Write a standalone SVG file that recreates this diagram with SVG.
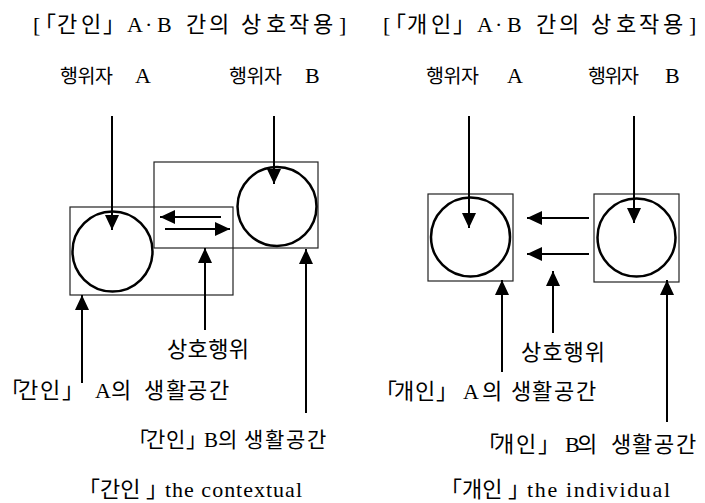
<svg xmlns="http://www.w3.org/2000/svg" width="705" height="503" viewBox="0 0 705 503">
<defs>
<style>
text{font-family:"Liberation Serif","Noto Sans CJK KR",serif;font-size:22px;fill:#000}
.ko{font-size:19.5px}
.sm{font-size:21px}
.box{fill:none;stroke:#222;stroke-width:1.2}
.circ{fill:#fff;stroke:#000;stroke-width:2.5}
.ar{stroke:#000;stroke-width:2;fill:none;marker-end:url(#ah)}
</style>
<marker id="ah" markerUnits="userSpaceOnUse" markerWidth="16" markerHeight="14" refX="15" refY="7" orient="auto">
<path d="M0,0 L15,7 L0,14 Z" fill="#000"/>
</marker>
</defs>
<rect width="705" height="503" fill="#fff"/>

<g id="title-left"><text y="32" x="33 34 57 81 103 120 127 145 157 175 186 209 230 241 266 289 313 339">[「간인」 A·B 간의 상호작용]</text></g>
<g id="title-right"><text y="32" x="383 384 407 431 453 470 477 495 507 525 536 559 580 591 616 639 663 689">[「개인」 A·B 간의 상호작용]</text></g>

<g id="L-actorA"><text y="83"><tspan class="ko" x="60 77.5 95">행위자</tspan><tspan x="120"> </tspan><tspan x="135">A</tspan></text></g>
<g id="L-actorB"><text y="83"><tspan class="ko" x="229 246.5 264">행위자</tspan><tspan x="290"> </tspan><tspan x="305">B</tspan></text></g>
<g id="L-spaceB"><rect class="box" x="154" y="162" width="164" height="86"/><circle class="circ" cx="277" cy="206.5" r="39.5"/></g>
<g id="L-spaceA"><rect class="box" x="70" y="207" width="163" height="88"/><circle class="circ" cx="112.5" cy="251.5" r="40"/></g>
<g id="L-interaction"><text x="167" y="357" textLength="82" lengthAdjust="spacing">상호행위</text></g>
<g id="L-labelA"><text y="398" x="0 18 40 62 80 95 111 135 144 166 187 209">「간인」 A의 생활공간</text></g>
<g id="L-labelB"><text class="sm" y="447" x="128 146 166 186 200 204 218 238 244 265 286 307">「간인」 B의 생활공간</text></g>
<g id="L-caption"><text y="497"><tspan x="78">「간인 」</tspan><tspan x="165" textLength="137" lengthAdjust="spacing">the contextual</tspan></text></g>

<g id="R-actorA"><text y="83"><tspan class="ko" x="426 443.5 461">행위자</tspan><tspan x="490"> </tspan><tspan x="507">A</tspan></text></g>
<g id="R-actorB"><text y="83"><tspan class="ko" x="588 604.5 621">행위자</tspan><tspan x="650"> </tspan><tspan x="665">B</tspan></text></g>
<g id="R-spaceA"><rect class="box" x="428" y="194" width="85" height="87"/><circle class="circ" cx="470.5" cy="237" r="39.5"/></g>
<g id="R-spaceB"><rect class="box" x="594" y="194" width="85" height="88"/><circle class="circ" cx="636.5" cy="237.5" r="39"/></g>
<g id="R-interaction"><text x="521" y="360" textLength="84" lengthAdjust="spacing">상호행위</text></g>
<g id="R-labelA"><text y="399" x="375 394 415 436 455 463 482 500 511 532 554 576">「개인」 A의 생활공간</text></g>
<g id="R-labelB"><text y="452" x="477 494 516 538 555 565 577 600 611 632 654 676">「개인」 B의 생활공간</text></g>
<g id="R-caption"><text y="497"><tspan x="440">「개인 」</tspan><tspan x="527" textLength="143" lengthAdjust="spacing">the individual</tspan></text></g>

<g id="connectors">
<line class="ar" x1="112" y1="116" x2="112" y2="230"/>
<line class="ar" x1="274" y1="116" x2="274" y2="184"/>
<line class="ar" x1="221" y1="217" x2="160" y2="217"/>
<line class="ar" x1="165" y1="229" x2="230" y2="229"/>
<line class="ar" x1="205" y1="330" x2="205" y2="248"/>
<line class="ar" x1="306" y1="413" x2="306" y2="249"/>
<line class="ar" x1="82" y1="383" x2="82" y2="295"/>
<line class="ar" x1="469" y1="116" x2="469" y2="228"/>
<line class="ar" x1="634" y1="116" x2="634" y2="223"/>
<line class="ar" x1="589" y1="218" x2="527" y2="218"/>
<line class="ar" x1="589" y1="254" x2="527" y2="254"/>
<line class="ar" x1="502" y1="372" x2="502" y2="280"/>
<line class="ar" x1="553" y1="333" x2="553" y2="271"/>
<line class="ar" x1="667" y1="422" x2="667" y2="280"/>
</g>
</svg>
